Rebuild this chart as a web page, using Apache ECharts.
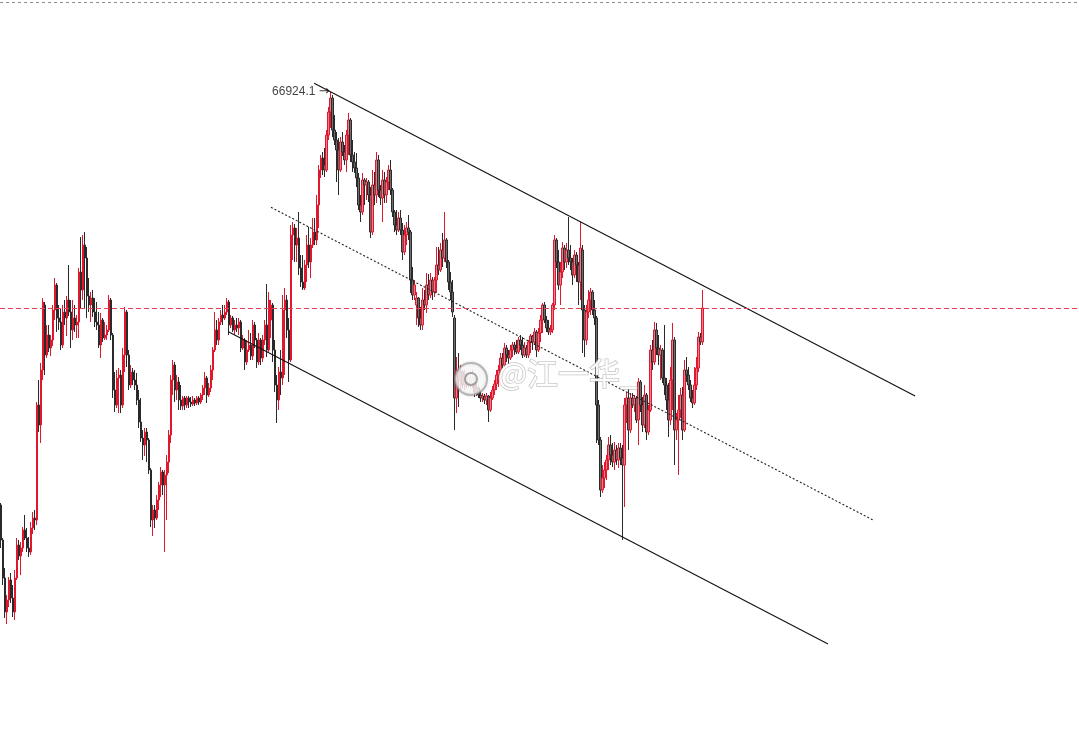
<!DOCTYPE html>
<html>
<head>
<meta charset="utf-8">
<script src="https://cdn.jsdelivr.net/npm/echarts@6/dist/echarts.min.js"></script>
<style>
html,body{margin:0;padding:0;background:#fff;}
#chart{width:1079px;height:746px;}
</style>
</head>
<body>
<div id="chart"></div>
<script>
// ---- DATA (prices) ----
const openPrices = [
62790,62440,62060,61720,61840,62040,61860,61720,62060,62390,
62280,62360,62540,62460,62360,62320,62560,62660,62640,63790,
63590,64140,64790,64290,64490,64360,64440,64740,64990,64660,
64620,64390,64720,64660,64840,64720,64540,64660,64590,64620,
65120,64940,65390,65260,64880,64790,64860,64720,64620,64590,
64390,64640,64460,64490,64540,64840,64490,63940,63790,64060,
64090,63790,64290,64720,64290,63990,64120,64040,63990,63840,
63620,63460,63390,63520,63440,63140,62640,62740,62660,62840,
62990,63120,62990,63090,63220,63490,64040,64190,63940,64020,
63840,63780,63860,63790,63860,63820,63800,63840,63810,63860,
63820,63890,63960,64060,63890,63960,64140,64340,64540,64440,
64620,64690,64660,64720,64820,64590,64660,64540,64590,64560,
64620,64360,64440,64220,64340,64390,64280,64590,64440,64220,
64440,64260,64440,64590,64340,64640,64790,64340,63990,63840,
64120,64060,64740,64840,64540,64240,65490,65560,65390,65460,
65160,65020,64960,65190,65390,65220,65390,65520,65440,65790,
66140,66260,66190,66140,66490,66720,66860,66540,66440,66340,
66140,66420,66320,66240,66490,66640,66290,66220,66160,66060,
65790,65720,66040,65990,66020,65890,65520,65990,65890,66240,
65940,65860,66040,65890,66020,66140,65940,65720,65590,65540,
65660,65540,65320,65490,65560,65520,65040,64890,64790,64860,
64660,64590,64840,64790,64990,64890,65040,64920,65040,65190,
65140,65340,65260,65440,65220,65020,64920,64660,63860,64140,
64040,64120,63990,64090,63990,64060,64010,64060,63920,63960,
63890,63860,63880,63840,63880,63740,63860,63940,64000,64090,
64140,64260,64190,64360,64290,64260,64340,64390,64360,64320,
64440,64390,64290,64360,64290,64420,64480,64420,64520,64340,
64510,64640,64790,64640,64560,64520,64540,64790,65440,65220,
64990,65120,65360,65220,65340,65260,65220,65090,65290,65190,
65020,65340,64740,64440,64720,64840,64920,64740,64660,63790,
63440,62940,63060,63140,63240,63390,63290,63220,63340,63240,
63360,63260,63190,63790,63860,63540,63860,63790,63860,63640,
64020,63790,63590,63890,63520,63740,64340,64220,64540,64360,
64290,64340,64060,63990,63840,63640,64040,64440,63540,63640,
63740,63890,63540,64140,64090,63990,63860,63810,63990,64160,
64470,64420
];
const closePrices = [
62440,62060,61720,61840,62040,61860,61720,62060,62390,62280,
62360,62540,62460,62360,62320,62560,62660,62640,63790,63590,
64140,64820,64290,64490,64360,64440,64740,64990,64660,64620,
64390,64720,64660,64840,64720,64540,64660,64590,64620,65120,
64940,65390,65260,64880,64790,64860,64720,64620,64590,64390,
64640,64460,64490,64540,64840,64490,63940,63790,64060,64090,
63790,64290,64720,64290,63990,64120,64040,63990,63840,63620,
63460,63390,63520,63440,63140,62640,62740,62660,62840,62990,
63120,62990,63090,63220,63490,64040,64190,63940,64020,63840,
63780,63860,63790,63860,63820,63800,63840,63810,63860,63820,
63890,63960,64060,63890,63960,64140,64340,64540,64440,64620,
64690,64660,64720,64820,64590,64660,64540,64590,64560,64620,
64360,64440,64220,64340,64390,64280,64590,64440,64220,64440,
64260,64440,64590,64340,64840,64790,64340,63990,63840,64120,
64060,64740,64840,64540,64240,65490,65560,65390,65460,65160,
65020,64960,65190,65390,65220,65390,65520,65440,65790,66140,
66260,66190,66140,66490,66720,66860,66540,66440,66340,66140,
66420,66320,66240,66490,66640,66290,66220,66160,66060,65790,
65720,66040,65990,66020,65890,65520,65990,65890,66240,65940,
65860,66040,65890,66020,66140,65940,65720,65590,65540,65660,
65540,65320,65490,65560,65520,65040,64890,64990,64860,64660,
64590,64840,64790,64990,64890,65040,64920,65040,65190,65140,
65340,65260,65440,65220,65020,64920,64720,63860,64140,64040,
64120,63990,64090,63990,64060,64010,64060,63920,63960,63890,
63860,63880,63840,63880,63740,63860,63940,64000,64090,64140,
64260,64190,64360,64290,64260,64340,64390,64360,64320,64440,
64390,64290,64360,64290,64420,64480,64420,64520,64340,64510,
64640,64790,64640,64560,64520,64540,64790,65440,65220,64990,
65120,65360,65220,65340,65260,65220,65090,65290,65190,65020,
65360,64740,64440,64720,64840,64920,64740,64660,63790,63440,
62940,63060,63140,63240,63390,63290,63220,63340,63240,63360,
63260,63190,63790,63860,63540,63860,63790,63860,63640,64020,
63790,63590,63890,63520,63740,64340,64220,64540,64360,64290,
64340,64060,63990,63840,63640,64040,64440,63540,63640,63740,
63890,63540,64140,64090,63990,63860,63810,63990,64160,64470,
64420,64760
];
const lowPrices = [
62360,61990,61660,61600,61770,61810,61670,61640,62040,62240,
62090,62320,62440,62320,62270,62290,62500,62540,62590,63520,
63410,64040,64090,64260,64320,64280,64380,64640,64520,64540,
64340,64360,64590,64480,64680,64360,64440,64520,64460,64460,
64760,64840,64760,64660,64720,64620,64670,64570,64540,64360,
64260,64420,64440,64440,64520,64440,63860,63720,63760,63710,
63710,63760,64120,64170,63940,63960,63990,63940,63790,63560,
63420,63240,63280,63220,63100,62570,62480,62560,62640,62740,
62870,62890,62320,62640,63110,63410,63890,63820,63840,63740,
63740,63740,63740,63760,63760,63770,63780,63780,63790,63790,
63800,63840,63890,63810,63870,63920,64040,64320,64390,64390,
64590,64590,64640,64690,64490,64560,64520,64490,64520,64490,
64320,64340,64140,64190,64320,64240,64240,64360,64160,64190,
64190,64220,64390,64270,64320,64460,64220,63920,63610,63740,
63890,63990,64090,64460,64020,64220,65240,65220,65220,65090,
64970,64940,64940,65020,65160,65060,65360,65390,65390,65560,
66060,66090,66070,66120,66440,66560,66470,66390,66020,65890,
66120,66280,66190,66120,66290,66220,66120,66110,65970,65740,
65620,65690,65790,65840,65820,65460,65490,65790,65810,65870,
65790,65620,65810,65810,65940,65890,65670,65520,65490,65520,
65490,65240,65290,65390,65440,64910,64840,64840,64590,64570,
64540,64540,64740,64710,64840,64860,64840,64870,64910,65090,
65120,65170,65220,65160,64940,64840,64670,63540,63710,63770,
63940,63960,63940,63960,63970,63970,63960,63870,63880,63860,
63820,63820,63800,63790,63620,63720,63840,63890,63940,63970,
64070,64140,64170,64220,64190,64240,64270,64290,64300,64300,
64340,64260,64270,64260,64260,64310,64340,64390,64270,64320,
64420,64510,64610,64520,64490,64490,64510,64740,65160,64940,
64790,65060,65140,65160,65190,65140,64990,65060,65020,64790,
64840,64310,64270,64390,64660,64690,64690,64590,63410,63390,
62870,62910,62960,63040,63140,63190,63170,63140,63190,63160,
63190,62440,62770,63610,63340,63510,63760,63720,63610,63390,
63720,63520,63560,63440,63490,63720,64140,64190,64290,64190,
64040,64010,63890,63740,63470,63590,63740,63190,63440,63090,
63660,63440,63520,64020,63940,63820,63760,63790,63940,64120,
64390,64390
];
const highPrices = [
62810,62460,62160,61890,62070,62110,61990,62140,62460,62440,
62420,62570,62690,62560,62470,62620,62720,62740,63820,64040,
64210,64860,64820,64590,64590,64490,64790,65060,65010,64790,
64760,64790,64840,64880,65190,64840,64840,64790,64690,65160,
65470,65490,65520,65370,65060,64920,64940,64860,64820,64720,
64710,64660,64620,64590,64890,64860,64510,64120,64140,64160,
64140,64360,64770,64740,64340,64190,64160,64140,64110,63940,
63860,63540,63560,63560,63460,63160,62790,62790,62890,63020,
63170,63140,63140,63290,63540,64090,64240,64220,64090,64070,
63990,63880,63880,63880,63880,63870,63880,63860,63880,63880,
63910,63990,64120,64080,64010,64190,64370,64720,64640,64660,
64740,64790,64790,64860,64840,64690,64680,64640,64660,64660,
64640,64490,64460,64440,64540,64510,64640,64620,64460,64510,
64460,64490,64640,65000,64920,64840,64810,64440,64090,64170,
64340,64890,64960,64890,64660,65590,65620,65600,65560,65720,
65290,65290,65240,65490,65570,65460,65660,65660,65890,66190,
66290,66320,66360,66540,66770,66924.1,66890,66690,66520,66460,
66470,66520,66390,66540,66710,66660,66440,66320,66310,66110,
65890,66110,66060,66060,66040,65970,66140,66120,66320,66290,
65990,66140,66120,66070,66190,66240,65960,65740,65740,65720,
65740,65610,65590,65620,65690,65540,65170,65040,64920,64870,
64770,64960,64940,65110,65100,65110,65070,65070,65370,65370,
65410,65510,65720,65460,65240,65120,65040,64690,64270,64310,
64190,64140,64140,64110,64110,64120,64140,64080,64010,63980,
63940,63910,63900,63910,63890,63920,63980,64040,64140,64190,
64310,64310,64410,64390,64340,64390,64420,64420,64440,64470,
64490,64470,64420,64390,64440,64500,64490,64560,64540,64560,
64690,64810,64820,64680,64640,64590,64810,65490,65460,65340,
65220,65420,65390,65410,65670,65390,65260,65340,65320,65220,
65620,65390,64790,64790,64940,64960,64940,64840,64680,63840,
63470,63190,63220,63290,63470,63490,63410,63420,63390,63410,
63410,63390,63860,63920,63960,63910,63910,63890,63880,64060,
64040,63870,63990,63910,63790,64390,64440,64620,64610,64490,
64390,64360,64590,64060,64010,64170,64610,64470,63710,63890,
63960,63970,64240,64270,64170,64040,63940,64170,64270,64520,
64510,64940
];
// channel lines: [bar index, price]
const upperChannel = [[156.7, 67007], [457.5, 63880]];
const midChannel   = [[135.1, 65767], [436.4, 62640]];
const lowerChannel = [[113.8, 64523], [413.9, 61400]];
const topBorderPrice = 67820;
const watermarkText = '@江一华_';

// ---- CHART ----
const SLOTS = 540;
const categories = Array.from({length: SLOTS}, (_, i) => String(i));
const candles = openPrices.map((o, i) => [o, closePrices[i], lowPrices[i], highPrices[i]]);
const lastClose = closePrices[closePrices.length - 1];
const maxHigh = Math.max(...highPrices);
const maxIdx = highPrices.indexOf(maxHigh);

const chart = echarts.init(document.getElementById('chart'), null, {renderer: 'canvas'});
chart.setOption({
  animation: false,
  backgroundColor: '#ffffff',
  grid: {left: 0, right: 0, top: 0, bottom: 0},
  xAxis: [
    {type: 'category', data: categories, boundaryGap: true, show: false},
    {type: 'value', min: -0.5, max: SLOTS - 0.5, show: false}
  ],
  yAxis: {type: 'value', min: 60380, max: 67840, show: false},
  series: [
    {
      type: 'candlestick',
      xAxisIndex: 0,
      data: candles,
      barWidth: 1.9,
      itemStyle: {
        color: '#ea7d8b', color0: '#6e6e6e',
        borderColor: '#e0182e', borderColor0: '#2a2a2a',
        borderWidth: 1
      },
      markLine: {
        silent: true, symbol: ['none', 'none'], label: {show: false},
        data: [
          {yAxis: lastClose, lineStyle: {color: '#e8404f', type: [5, 3], width: 1}},
          {yAxis: topBorderPrice, lineStyle: {color: '#8c8c8c', type: [3, 3], width: 1}}
        ]
      }
    },
    {
      type: 'scatter', xAxisIndex: 0, symbolSize: 2, z: 10,
      itemStyle: {color: 'rgba(0,0,0,0)'},
      data: [[maxIdx, maxHigh]],
      label: {
        show: true, position: 'left', distance: 0,
        formatter: () => '{v|' + maxHigh.toFixed(1) + '} {a|\u2192}',
        rich: {
          v: {fontFamily: 'Liberation Sans, Arial, sans-serif', fontSize: 12, color: '#111'},
          a: {fontFamily: 'DejaVu Sans, sans-serif', fontSize: 13, color: '#000'}
        }
      },
      labelLayout: {hideOverlap: false}
    },
    {type: 'line', xAxisIndex: 1, data: upperChannel, symbol: 'none',
     lineStyle: {color: '#111', width: 1.1}},
    {type: 'line', xAxisIndex: 1, data: midChannel, symbol: 'none',
     lineStyle: {color: '#222', width: 1.1, type: [2, 2]}},
    {type: 'line', xAxisIndex: 1, data: lowerChannel, symbol: 'none',
     lineStyle: {color: '#111', width: 1.1}}
  ],
  graphic: [
    {type: 'circle', left: 454, top: 362, z: 100, shape: {r: 16},
     style: {fill: 'rgba(255,255,255,0.8)', stroke: 'rgba(140,140,140,0.55)', lineWidth: 2,
       shadowColor: 'rgba(0,0,0,0.2)', shadowBlur: 3}},
    {type: 'circle', left: 464, top: 372, z: 101, shape: {r: 6},
     style: {fill: 'rgba(255,255,255,0.6)', stroke: 'rgba(110,110,110,0.6)', lineWidth: 2}},
    {type: 'text', left: 497, top: 357, z: 100,
     style: {text: watermarkText, font: '31px "Noto Sans CJK SC", sans-serif',
       fill: 'rgba(255,255,255,0.95)', stroke: 'rgba(160,160,160,0.6)', lineWidth: 1.5,
       shadowColor: 'rgba(0,0,0,0.3)', shadowBlur: 4}}
  ]
});
</script>
</body>
</html>
